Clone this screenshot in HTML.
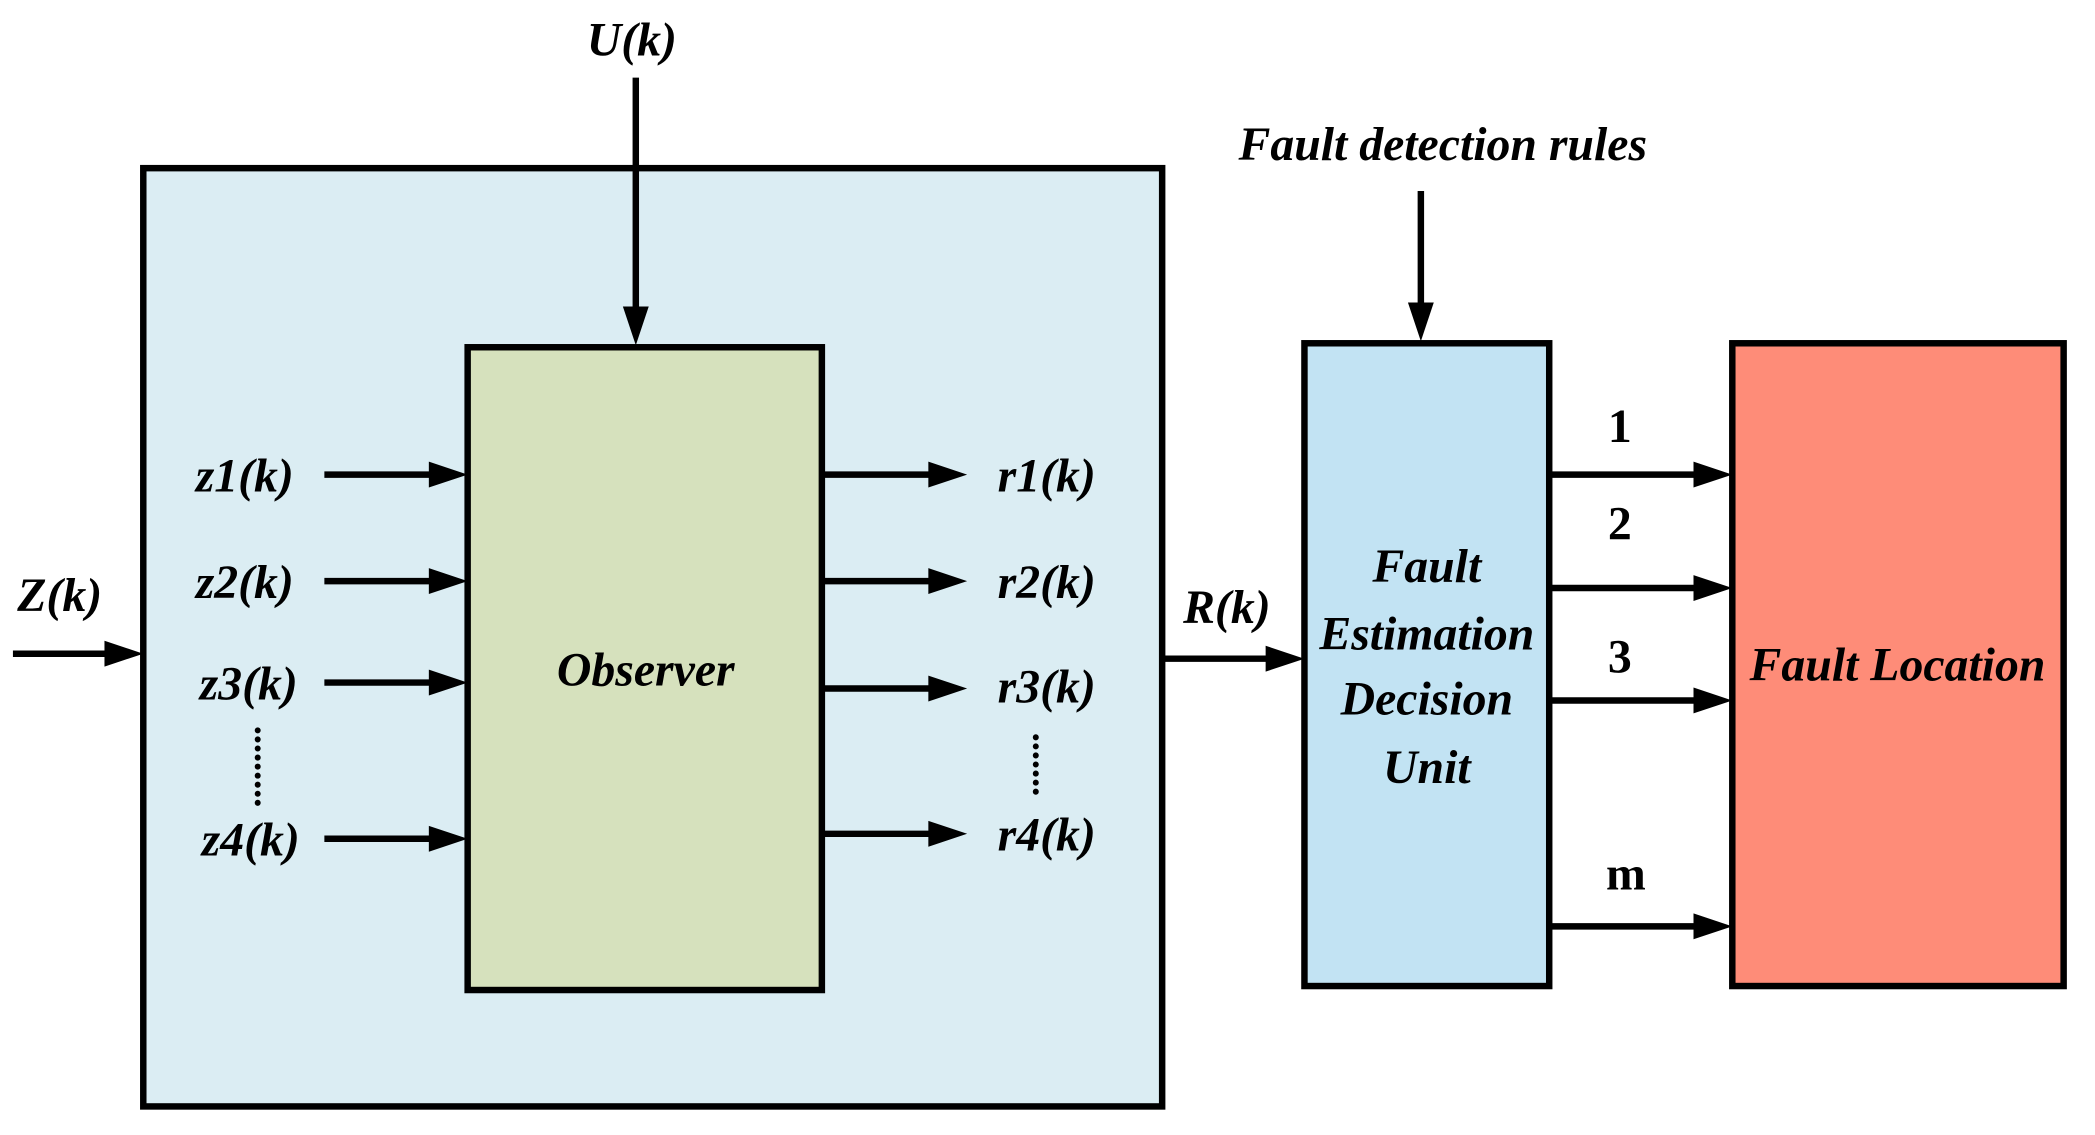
<!DOCTYPE html>
<html><head><meta charset="utf-8"><style>html,body{margin:0;padding:0;background:#fff}svg{display:block}</style></head>
<body>
<svg width="2095" height="1135" viewBox="0 0 2095 1135" xmlns="http://www.w3.org/2000/svg" font-family="Liberation Serif, serif" font-weight="bold">
<g transform="scale(0.995)">
<g stroke="#000" stroke-width="6.5">
<rect x="144" y="169" width="1024" height="943" fill="#dbedf3"/>
<rect x="470" y="349" width="356" height="646" fill="#d6e1bd"/>
<rect x="1311" y="345" width="246" height="646" fill="#c2e3f3"/>
<rect x="1741" y="345" width="333" height="646" fill="#fe8c78"/>
</g>
<g stroke="#000" stroke-width="6.5" fill="none">
<line x1="639" y1="78" x2="639" y2="315"/>
<line x1="13" y1="657" x2="112" y2="657"/>
<line x1="326" y1="477" x2="438" y2="477"/>
<line x1="326" y1="584" x2="438" y2="584"/>
<line x1="326" y1="686" x2="438" y2="686"/>
<line x1="326" y1="843" x2="438" y2="843"/>
<line x1="826" y1="477" x2="940" y2="477"/>
<line x1="826" y1="584" x2="940" y2="584"/>
<line x1="826" y1="692" x2="940" y2="692"/>
<line x1="826" y1="838" x2="940" y2="838"/>
<line x1="1168" y1="662" x2="1279" y2="662"/>
<line x1="1428" y1="192" x2="1428" y2="312"/>
<line x1="1557" y1="477" x2="1709" y2="477"/>
<line x1="1557" y1="591" x2="1709" y2="591"/>
<line x1="1557" y1="704" x2="1709" y2="704"/>
<line x1="1557" y1="931" x2="1709" y2="931"/>
</g>
<g fill="#000">
<polygon points="626,308 652,308 639,347"/>
<polygon points="1415,304 1441,304 1428,343"/>
<polygon points="105,644 105,670 144,657"/>
<polygon points="431,464 431,490 470,477"/>
<polygon points="431,571 431,597 470,584"/>
<polygon points="431,673 431,699 470,686"/>
<polygon points="431,830 431,856 470,843"/>
<polygon points="933,464 933,490 972,477"/>
<polygon points="933,571 933,597 972,584"/>
<polygon points="933,679 933,705 972,692"/>
<polygon points="933,825 933,851 972,838"/>
<polygon points="1272,649 1272,675 1311,662"/>
<polygon points="1702,464 1702,490 1741,477"/>
<polygon points="1702,578 1702,604 1741,591"/>
<polygon points="1702,691 1702,717 1741,704"/>
<polygon points="1702,918 1702,944 1741,931"/>
</g>
<g stroke="#000" stroke-width="6" stroke-dasharray="0.1,9" stroke-linecap="round">
<line x1="259" y1="734" x2="259" y2="808"/>
<line x1="1041" y1="741" x2="1041" y2="796"/>
</g>
<g font-style="italic" font-size="48" text-anchor="middle" fill="#000">
<text x="635" y="56">U(k)</text>
<text x="60" y="614">Z(k)</text>
<text x="246" y="494">z1(k)</text>
<text x="246" y="601">z2(k)</text>
<text x="250" y="703">z3(k)</text>
<text x="252" y="860">z4(k)</text>
<text x="1052" y="494">r1(k)</text>
<text x="1052" y="601">r2(k)</text>
<text x="1052" y="706">r3(k)</text>
<text x="1052" y="855">r4(k)</text>
<text x="649" y="689">Observer</text>
<text x="1233" y="626">R(k)</text>
<text x="1450" y="161">Fault detection rules</text>
<text x="1434" y="585">Fault</text>
<text x="1434" y="653">Estimation</text>
<text x="1434" y="718">Decision</text>
<text x="1434" y="787">Unit</text>
<text x="1907" y="684">Fault Location</text>
</g>
<g font-size="48" text-anchor="middle" fill="#000">
<text x="1628" y="444">1</text>
<text x="1628" y="542">2</text>
<text x="1628" y="676">3</text>
<text x="1634" y="894">m</text>
</g>
</g>
</svg>
</body></html>
